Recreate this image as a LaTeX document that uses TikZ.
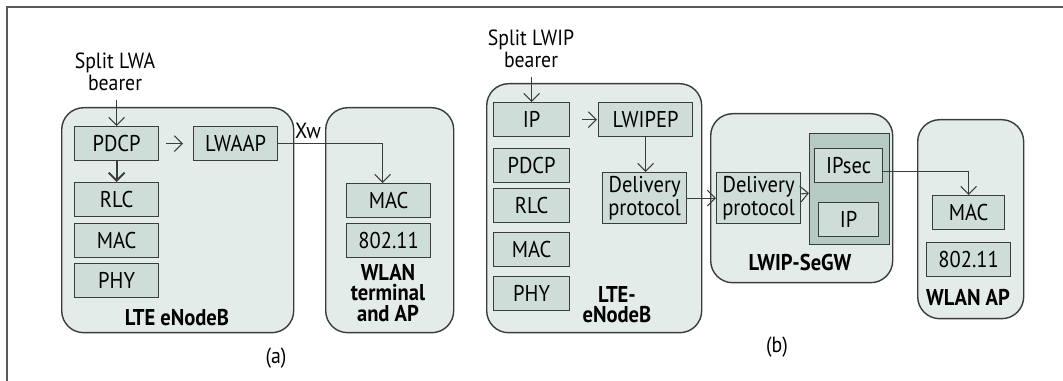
\documentclass[tikz,border=0pt]{standalone}
\usepackage{fontspec}
\setmainfont{PT Sans}[FakeStretch=0.9]
\usetikzlibrary{arrows.meta,positioning}
\definecolor{shell}{RGB}{228,236,234}
\definecolor{slab}{RGB}{207,221,217}
\definecolor{tunnelfill}{RGB}{181,201,197}
\definecolor{edge}{RGB}{60,60,60}
\newdimen\pxu \pxu=0.02cm
\tikzset{
  shellbox/.style={draw=edge,fill=shell,line width=0.8pt,rounded corners=22\pxu,anchor=north west,inner sep=0pt},
  layer/.style={draw=edge,fill=slab,line width=0.7pt,anchor=north west,minimum width=84\pxu,minimum height=34\pxu,
    inner sep=0pt,font=\fontsize{13}{11.5}\selectfont,align=center},
  caption/.style={font=\bfseries\fontsize{13}{11.5}\selectfont,align=center},
  note/.style={font=\fontsize{12.5}{10.8}\selectfont,align=center},
  flow/.style={draw=edge,line width=0.6pt,-{Straight Barb[length=4.5pt,width=9pt]}},
}

\begin{document}
\begin{tikzpicture}[x=\pxu,y=-\pxu]
  \useasboundingbox (0,0) rectangle (1063,381);
  \draw[gray!70!black,line width=1.1pt] (1063,7) -- (7,7) -- (7,381);

  % (a) LWA
  \node[shellbox,minimum width=232\pxu,minimum height=225\pxu] (enbA) at (61,107) {};
  \node[shellbox,minimum width=128\pxu,minimum height=225\pxu] (wlanT) at (325,107) {};
  \node[layer] (pdcpA) at (74,126) {PDCP};
  \node[layer] (lwaap) at (193,126) {LWAAP};
  \foreach \n/\t/\y in {rlcA/RLC/182,macA/MAC/223,phyA/PHY/263}
    \node[layer] (\n) at (74,\y) {\t};
  \node[layer] (macT) at (346,183) {MAC};
  \node[layer] (wifiT) at (346,223) {802.11};
  \node[caption] (capA) at (177,318) {LTE eNodeB};
  \node[caption] (capT) at (388,293) {WLAN\\terminal\\and AP};
  \node[note] (splitA) at (115,72) {Split LWA\\bearer};
  \node[note] (xw) at (308,131) {Xw};
  \node[note] (subA) at (276,358) {(a)};

  % (b) LWIP
  \node[shellbox,minimum width=215\pxu,minimum height=249\pxu] (enbB) at (486,83) {};
  \node[shellbox,minimum width=182\pxu,minimum height=169\pxu] (segw) at (710,113) {};
  \node[shellbox,minimum width=106\pxu,minimum height=199\pxu] (wlanAP) at (917,119) {};
  \foreach \n/\t/\y in {ipB/IP/102,pdcpB/PDCP/148,rlcB/RLC/188,macB/MAC/232,phyB/PHY/276}
    \node[layer,minimum width=76\pxu] (\n) at (493,\y) {\t};
  \node[layer,minimum width=94\pxu] (lwipep) at (598,102) {LWIPEP};
  \node[layer,minimum height=51\pxu] (delivB) at (602,172) {Delivery\\protocol};
  \node[layer,minimum height=51\pxu] (delivS) at (716,172) {Delivery\\protocol};
  \node[layer,fill=tunnelfill,minimum width=80\pxu,minimum height=111\pxu] (tunnel) at (809,133) {};
  \node[layer,minimum width=68\pxu] (ipsec) at (814,148) {IPsec};
  \node[layer,minimum width=60\pxu] (ipS) at (818,202) {IP};
  \node[layer,minimum width=72\pxu] (macAP) at (932,195) {MAC};
  \node[layer] (wifiAP) at (926,242) {802.11};
  \node[caption] (capB) at (617,305) {LTE-\\eNodeB};
  \node[caption] (capS) at (800,263) {LWIP-SeGW};
  \node[caption] (capAP) at (968,297) {WLAN AP};
  \node[note] (splitB) at (531,49) {Split LWIP\\bearer};
  \node[note] (subB) at (777,347) {(b)};

  % connectors
  \draw[flow,shorten <=3\pxu] (splitA.south -| pdcpA.north) -- (pdcpA.north);
  \draw[flow,shorten <=7\pxu,shorten >=10\pxu] (pdcpA) -- (lwaap);
  \draw[flow,line width=1.1pt] (pdcpA) -- (rlcA);
  \draw[flow] (lwaap.east) -| ([xshift=-6\pxu]macT.north);
  \draw[flow,shorten <=3\pxu] (splitB.south -| ipB.north) -- (ipB.north);
  \draw[flow,shorten <=12\pxu,shorten >=1\pxu] (ipB) -- (lwipep);
  \draw[flow] (lwipep) -- (lwipep |- delivB.north);
  \draw[flow] (delivB) -- (delivS);
  \draw[flow] (delivS) -- (tunnel);
  \draw[flow] ([yshift=-6\pxu]ipsec.east) -| (macAP.north);
\end{tikzpicture}
\end{document}
